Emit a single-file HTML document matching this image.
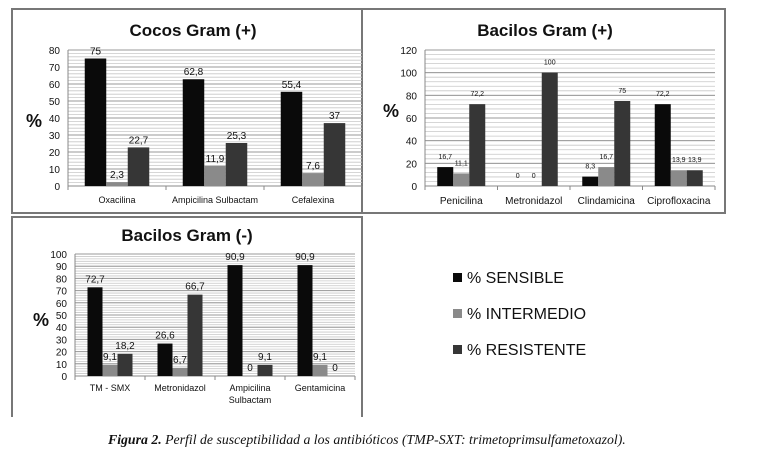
<!DOCTYPE html>
<html><head><meta charset="utf-8"><style>
html,body{margin:0;padding:0;background:#fff;width:757px;height:471px;overflow:hidden}
svg{display:block;font-family:"Liberation Sans",sans-serif}
</style></head><body>
<svg id="fig" width="757" height="471" viewBox="0 0 757 471">
<g stroke="#777" stroke-width="2" fill="none">
<rect x="12" y="9" width="350" height="204"/>
<rect x="362" y="9" width="363" height="204"/>
<polyline points="12,417 12,217 362,217 362,417"/>
</g>
<g font-size="16" fill="#111">
<g><rect x="453" y="273" width="9" height="9" fill="#0a0a0a"/><text x="467" y="283">% SENSIBLE</text></g>
<g><rect x="453" y="309" width="9" height="9" fill="#8a8a8a"/><text x="467" y="319">% INTERMEDIO</text></g>
<g><rect x="453" y="345" width="9" height="9" fill="#363636"/><text x="467" y="355">% RESISTENTE</text></g>
</g>
<text x="108" y="444" font-family="Liberation Serif,serif" font-size="13.8" font-style="italic" fill="#111"><tspan font-weight="bold">Figura 2.</tspan> Perfil de susceptibilidad a los antibióticos (TMP-SXT: trimetoprimsulfametoxazol).</text>
</svg>
<script>
const c1Categories=[["Oxacilina"],["Ampicilina Sulbactam"],["Cefalexina"]];
const c1Sensible=[75,62.8,55.4];
const c1Intermedio=[2.3,11.9,7.6];
const c1Resistente=[22.7,25.3,37];
const c1Ticks=[0,10,20,30,40,50,60,70,80];

const c2Categories=[["Penicilina"],["Metronidazol"],["Clindamicina"],["Ciprofloxacina"]];
const c2Sensible=[16.7,0,8.3,72.2];
const c2Intermedio=[11.1,0,16.7,13.9];
const c2Resistente=[72.2,100,75,13.9];
const c2Ticks=[0,20,40,60,80,100,120];

const c3Categories=[["TM - SMX"],["Metronidazol"],["Ampicilina","Sulbactam"],["Gentamicina"]];
const c3Sensible=[72.7,26.6,90.9,90.9];
const c3Intermedio=[9.1,6.7,0,9.1];
const c3Resistente=[18.2,66.7,9.1,0];
const c3Ticks=[0,10,20,30,40,50,60,70,80,90,100];

const NS="http://www.w3.org/2000/svg";
const svg=document.getElementById('fig');
function mk(tag,attrs,parent,txt){const e=document.createElementNS(NS,tag);for(const k in attrs)e.setAttribute(k,attrs[k]);if(txt!==undefined)e.textContent=txt;parent.appendChild(e);return e;}
const colors=["#0a0a0a","#8a8a8a","#363636"];
const sNames=["sensible","intermedio","resistente"];
function fmt(v){return String(v).replace('.',',');}
function chart(o){
  const g=mk('g',{},svg);
  
  
  const max=o.ticks[o.ticks.length-1];
  const y=v=>o.y0-(v/max)*(o.y0-o.yTop);
  const n=o.cats.length, cw=(o.x1-o.x0)/n;
  const x=i=>o.x0+i*cw;
  const step=o.ticks[1]-o.ticks[0];
  for(let v=0;v<=max+1e-9;v+=step/5){
    const l=mk('line',{x1:o.x0,x2:o.x1,y1:y(v),y2:y(v),stroke:'#c8c8c8','stroke-width':0.8},g);
    
    
  }
  o.ticks.forEach(t=>{
    mk('line',{x1:o.x0,x2:o.x1,y1:y(t),y2:y(t),stroke:'#999','stroke-width':1},g);
    const tx=mk('text',{x:o.x0-8,y:y(t)+4,'text-anchor':'end','font-size':10,fill:'#111'},g,t);
    
    
  });
  mk('line',{x1:o.x0,x2:o.x0,y1:o.yTop,y2:o.y0,stroke:'#888'},g);
  mk('line',{x1:o.x0,x2:o.x1,y1:o.y0,y2:o.y0,stroke:'#888'},g);
  for(let i=0;i<=n;i++)mk('line',{x1:x(i),x2:x(i),y1:o.y0,y2:o.y0+4,stroke:'#888'},g);
  const series=[o.s,o.m,o.r];
  const gw=3*o.bw, off=(cw-gw)/2;
  o.cats.forEach((cat,i)=>{
    series.forEach((arr,k)=>{
      const v=arr[i], bx=x(i)+off+k*o.bw;
      const b=mk('rect',{x:bx,y:y(v),width:o.bw,height:o.y0-y(v),fill:colors[k]},g);
      
      
      const lb=mk('text',{x:bx+o.bw/2,y:y(v)-o.lgap,'text-anchor':'middle','font-size':o.lfs,fill:'#111'},g,fmt(v));
      
      
    });
    const ct=mk('text',{x:x(i)+cw/2,y:o.y0+o.cy,'text-anchor':'middle','font-size':o.cfs,fill:'#111'},g);
    
    
    cat.forEach((line,j)=>mk('tspan',{x:x(i)+cw/2,dy:j?12:0},ct,line));
  });
  const ti=mk('text',{x:o.tx,y:o.ty,'text-anchor':'middle','font-size':17,'font-weight':'bold',fill:'#111'},g,o.title);
  
  
  const ya=mk('text',{x:o.px,y:o.py,'text-anchor':'middle','font-size':18,'font-weight':'bold',fill:'#111'},g,'%');
  
  
}
chart({name:'chart-cocos-gram-pos',cats:c1Categories,s:c1Sensible,m:c1Intermedio,r:c1Resistente,ticks:c1Ticks,x0:68,x1:362,yTop:50,y0:186,bw:21.5,lfs:10,lgap:4,cfs:9,cy:17,title:'Cocos Gram (+)',tx:193,ty:36,px:34,py:127});
chart({name:'chart-bacilos-gram-pos',cats:c2Categories,s:c2Sensible,m:c2Intermedio,r:c2Resistente,ticks:c2Ticks,x0:425,x1:715,yTop:50,y0:186,bw:16,lfs:7,lgap:8,cfs:10,cy:18,title:'Bacilos Gram (+)',tx:545,ty:36,px:391,py:117});
chart({name:'chart-bacilos-gram-neg',cats:c3Categories,s:c3Sensible,m:c3Intermedio,r:c3Resistente,ticks:c3Ticks,x0:75,x1:355,yTop:254,y0:376,bw:15,lfs:10,lgap:5,cfs:9,cy:15,title:'Bacilos Gram (-)',tx:187,ty:241,px:41,py:326});
</script>
</body></html>
